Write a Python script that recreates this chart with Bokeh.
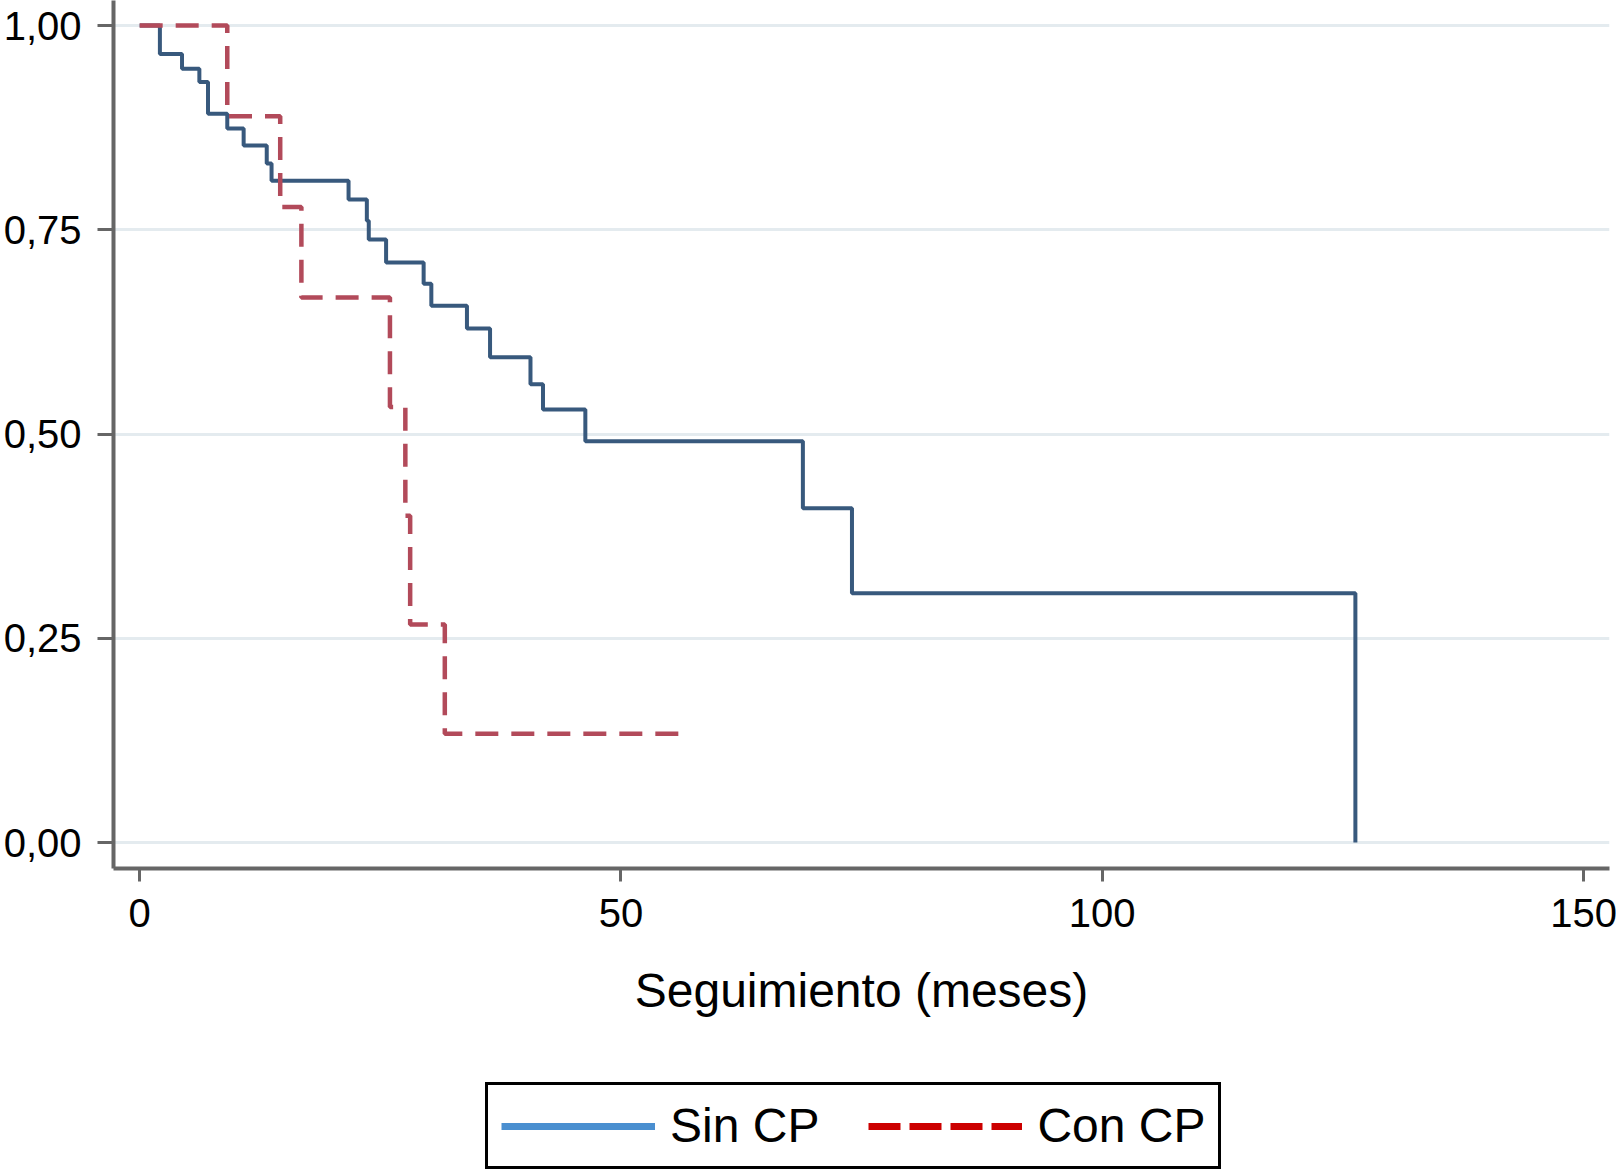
from bokeh.plotting import figure
from bokeh.layouts import column
from bokeh.models import (FixedTicker, Legend, LegendItem, ColumnDataSource,
                          Range1d, CustomJSTickFormatter)
from bokeh.embed import file_html
from bokeh.resources import INLINE

# Kaplan-Meier estimates
sin_cp_time = [0, 2.1, 4.4, 6.2, 7.1, 9.1, 10.8, 13.2, 13.7, 21.7, 23.6, 23.8,
               25.6, 29.5, 30.3, 34.0, 36.4, 40.6, 41.9, 46.3, 68.9, 74.0, 126.3]
sin_cp_surv = [1.0, 0.965, 0.947, 0.931, 0.892, 0.874, 0.853, 0.831, 0.810,
               0.787, 0.761, 0.738, 0.710, 0.684, 0.657, 0.629, 0.594, 0.561,
               0.530, 0.491, 0.409, 0.305, 0.0]
con_cp_time = [0, 9.1, 14.6, 16.8, 26.0, 27.6, 28.1, 31.7, 56.6]
con_cp_surv = [1.0, 0.889, 0.778, 0.667, 0.533, 0.400, 0.267, 0.133, 0.133]

x_ticks = [0, 50, 100, 150]
y_ticks = [0, 0.25, 0.5, 0.75, 1.0]
x_label = "Seguimiento (meses)"
series_labels = ["Sin CP", "Con CP"]

FONT = "Liberation Sans"

p = figure(frame_width=1496, frame_height=868,
           x_range=Range1d(-2.72, 152.7), y_range=Range1d(-0.0318, 1.0306),
           output_backend="svg", toolbar_location=None,
           min_border_left=112, min_border_right=8, min_border_top=0,
           min_border_bottom=182)
p.outline_line_color = None
p.background_fill_color = "white"
p.border_fill_color = "white"

p.xgrid.grid_line_color = None
p.ygrid.ticker = FixedTicker(ticks=y_ticks)
p.ygrid.grid_line_color = "#e4ebef"
p.ygrid.grid_line_width = 3

for ax in (p.xaxis[0], p.yaxis[0]):
    ax.axis_line_color = "#666666"
    ax.axis_line_width = 4
    ax.major_tick_line_color = "#666666"
    ax.major_tick_line_width = 3
    ax.major_tick_in = 0
    ax.minor_tick_line_color = None
    ax.major_label_text_font = FONT
    ax.major_label_text_font_size = "40px"
    ax.major_label_text_color = "black"

p.xaxis.ticker = FixedTicker(ticks=x_ticks)
p.xaxis.major_tick_out = 13
p.xaxis.major_label_standoff = 17
p.xaxis.axis_label = x_label
p.xaxis.axis_label_text_font = FONT
p.xaxis.axis_label_text_font_size = "48px"
p.xaxis.axis_label_text_font_style = "normal"
p.xaxis.axis_label_text_color = "black"
p.xaxis.axis_label_standoff = 34

p.yaxis.ticker = FixedTicker(ticks=y_ticks)
p.yaxis.major_tick_out = 16
p.yaxis.major_label_standoff = 16
p.yaxis.formatter = CustomJSTickFormatter(code="return tick.toFixed(2).replace('.', ',');")

src_sin = ColumnDataSource(dict(t=sin_cp_time, s=sin_cp_surv))
src_con = ColumnDataSource(dict(t=con_cp_time, s=con_cp_surv))

p.step(x="t", y="s", source=src_sin, mode="after", line_color="#38597d",
       line_width=4)
p.step(x="t", y="s", source=src_con, mode="after", line_color="#b24a5a",
       line_width=4.5, line_dash="23 13")

# legend strip below the chart (legend colours differ from plotted lines)
pl = figure(width=1616, height=121, x_range=Range1d(0, 1), y_range=Range1d(0, 1),
            output_backend="svg", toolbar_location=None,
            min_border_left=112, min_border_right=8, min_border_top=0,
            min_border_bottom=0)
pl.axis.visible = False
pl.grid.grid_line_color = None
pl.outline_line_color = None
pl.background_fill_color = "white"
pl.border_fill_color = "white"

# proxy renderers for the legend keys (their points lie outside the strip's view)
r_sin = pl.line(x=[5, 6], y=[5, 5], line_color="#4a8fd0", line_width=7)
r_con = pl.line(x=[5, 6], y=[5, 5], line_color="#cc0000", line_width=7,
                line_dash="32 9")

legend = Legend(items=[LegendItem(label=series_labels[0], renderers=[r_sin]),
                       LegendItem(label=series_labels[1], renderers=[r_con])],
                orientation="horizontal", location=(372, 2),
                border_line_color="black", border_line_width=3,
                border_line_alpha=1.0,
                label_text_font=FONT, label_text_font_size="48px",
                label_text_color="black",
                glyph_width=154, glyph_height=20, label_standoff=15,
                spacing=49, padding=13, margin=0,
                background_fill_color="white", background_fill_alpha=1)
pl.add_layout(legend, "center")

layout = column(p, pl, spacing=0)
open("out.html", "w").write(file_html(layout, INLINE))
